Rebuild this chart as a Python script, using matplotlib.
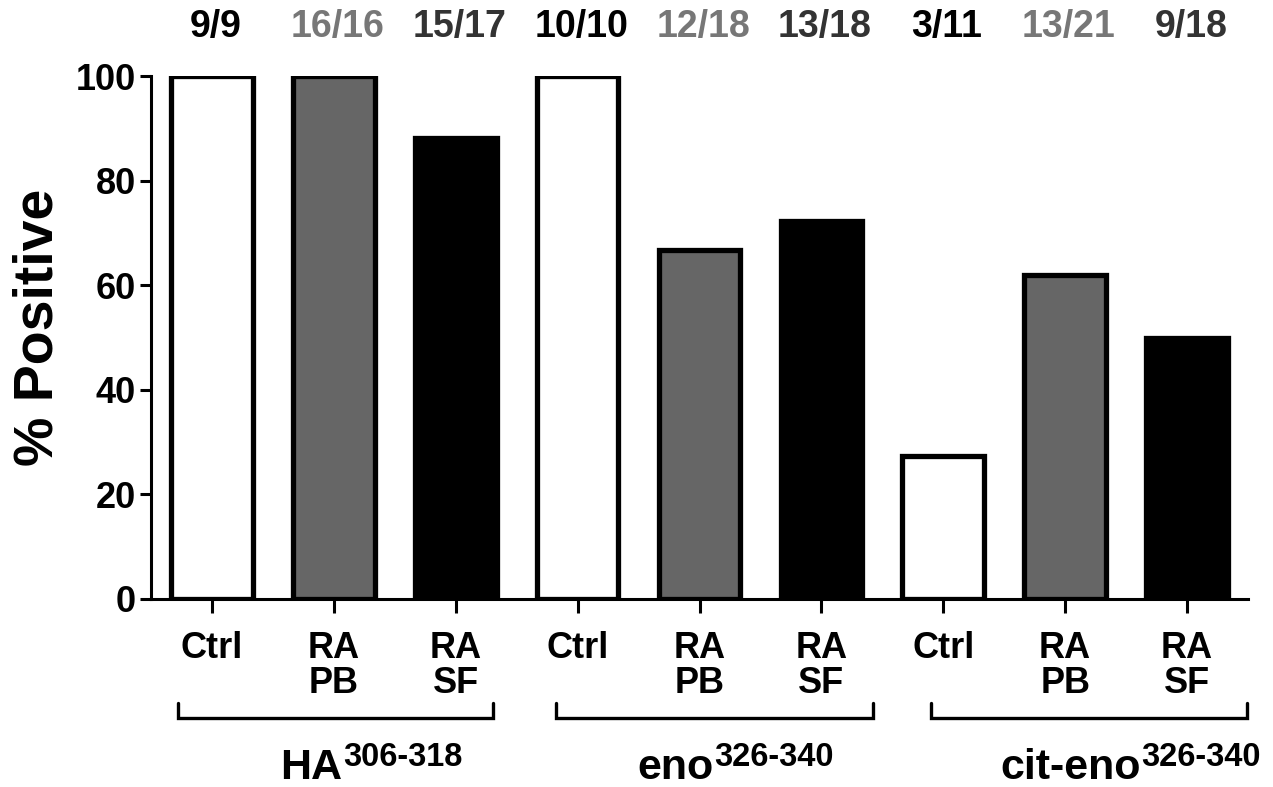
import matplotlib
matplotlib.use("Agg")
import matplotlib.pyplot as plt
import matplotlib.transforms as mtransforms

categories = ["Ctrl", "RA\nPB", "RA\nSF", "Ctrl", "RA\nPB", "RA\nSF", "Ctrl", "RA\nPB", "RA\nSF"]
values = [100.0, 100.0, 88.2, 100.0, 66.7, 72.2, 27.3, 61.9, 50.0]
fractions = ["9/9", "16/16", "15/17", "10/10", "12/18", "13/18", "3/11", "13/21", "9/18"]
group_names = ["HA", "eno", "cit-eno"]
group_sups = ["306-318", "326-340", "326-340"]
yticks = [0, 20, 40, 60, 80, 100]

bar_colors = ["white", "#666666", "black"] * 3
label_colors = ["black", "#777777", "#333333"] * 3

plt.rcParams['font.family'] = ['Liberation Sans', 'DejaVu Sans']
plt.rcParams['font.weight'] = 'bold'

fig = plt.figure(figsize=(12.73, 7.87), dpi=100)
ax = fig.add_axes([151/1273, 1-599/787, 1097/1273, 523/787])

x = list(range(len(values)))
ax.bar(x, values, width=0.67, color=bar_colors, edgecolor="black", linewidth=3.8, zorder=3)

ax.set_xlim(-0.5, 8.5)
ax.set_ylim(0, 100)
for s in ["top", "right"]:
    ax.spines[s].set_visible(False)
for s in ["left", "bottom"]:
    ax.spines[s].set_linewidth(2.2)

ax.set_yticks(yticks)
ax.set_yticklabels([str(v) for v in yticks], fontsize=26, fontweight='bold')
ax.tick_params(axis='y', length=8, width=2.2, pad=3, direction='out')
ax.set_xticks(x)
ax.set_xticklabels(categories, fontsize=26, fontweight='bold', linespacing=1.02, va='top')
ax.tick_params(axis='x', length=10, width=2.2, pad=13, direction='out')

ax.set_ylabel("% Positive", fontsize=40, fontweight='bold', va='center')
ax.yaxis.set_label_coords(-0.103, 0.52)

trans = mtransforms.blended_transform_factory(ax.transData, ax.transAxes)
for xi, frac, c in zip(x, fractions, label_colors):
    ax.text(xi + 0.03, 1.094, frac, transform=trans, ha='center', va='center',
            fontsize=27, fontweight='bold', color=c, clip_on=False)

# group brackets
brackets = [(-0.279, 2.306), (2.822, 5.423), (5.899, 8.491)]
yb, yt = -0.2275, -0.199
for x0, x1 in brackets:
    ax.plot([x0, x0, x1, x1], [yt, yb, yb, yt], transform=trans, color='black',
            lw=2.4, clip_on=False, solid_capstyle='round', solid_joinstyle='miter')

# group labels with superscripts
fig.canvas.draw()
renderer = fig.canvas.get_renderer()
centers_px = [371, 735, 1130]
base_px = 779
W, H = fig.bbox.width, fig.bbox.height
for cx, name, sup in zip(centers_px, group_names, group_sups):
    t1 = fig.text(0, 0, name, fontsize=31, fontweight='bold', va='baseline', ha='left')
    t2 = fig.text(0, 0, sup, fontsize=23.5, fontweight='bold', va='baseline', ha='left')
    w1 = t1.get_window_extent(renderer).width
    w2 = t2.get_window_extent(renderer).width
    left = cx - (w1 + w2) / 2
    t1.set_position((left / W, 1 - base_px / H))
    t2.set_position(((left + w1 + 1) / W, 1 - (base_px - 13) / H))

fig.savefig("out.png", dpi=100)
